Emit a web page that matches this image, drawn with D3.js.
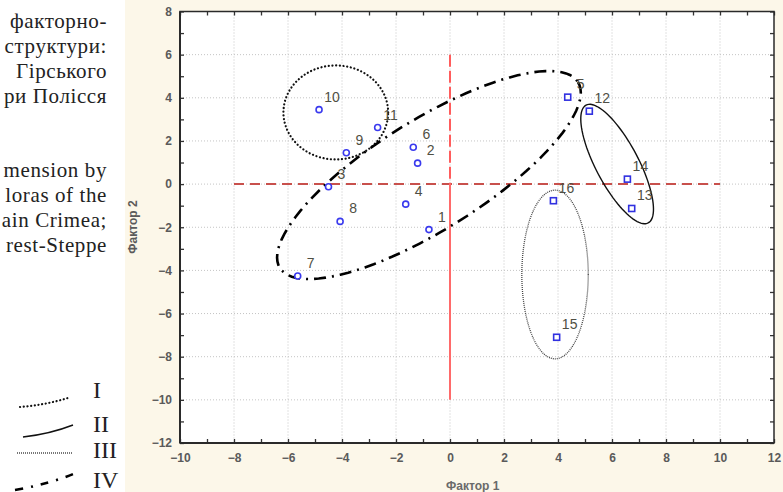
<!DOCTYPE html>
<html>
<head>
<meta charset="utf-8">
<script src="https://cdn.jsdelivr.net/npm/d3@7"></script>
<style>
  body { margin: 0; background: #fff; }
  svg { display: block; }
  .tick text { font-family: "Liberation Sans", Arial, sans-serif; font-size: 12px; font-weight: bold; fill: #5a5a5a; }
</style>
</head>
<body>
<svg id="chart" width="783" height="492"></svg>
<script>
// point numbers and factor scores
const ids = ["1","2","3","4","5","6","7","8","9","10","11","12","13","14","15","16"];
const factor1 = [-0.78, -1.2, -4.5, -1.64, 4.36, -1.36, -5.64, -4.07, -3.84, -4.85, -2.68, 5.16, 6.73, 6.57, 3.95, 3.83];
const factor2 = [-2.11, 0.97, -0.12, -0.93, 4.03, 1.71, -4.26, -1.73, 1.45, 3.45, 2.62, 3.38, -1.13, 0.23, -7.1, -0.77];
const markers = ["o","o","o","o","s","o","o","o","o","o","o","s","s","s","s","s"];

const xTicks = [-10, -8, -6, -4, -2, 0, 2, 4, 6, 8, 10, 12];
const yTicks = [-12, -10, -8, -6, -4, -2, 0, 2, 4, 6, 8];

// group ellipses (centre + two semi-axis vectors, data units)
const groupNames = ["I", "II", "III", "IV"];
const groupCentre = [[-4.23, 3.32], [6.19, 0.93], [3.89, -4.19], [-0.78, 0.42]];
const groupAxisU = [[1.94, 0], [1.15, -2.73], [1.23, 0], [5.52, 4.31]];
const groupAxisV = [[0, 2.18], [0.70, 0.46], [0, 3.91], [1.08, -2.16]];

const leftUk = ["факторно-", "структури:", "Гірського", "ри Полісся"];
const leftEn = ["mension by", "loras of the", "ain Crimea;", "rest-Steppe"];

const svg = d3.select("#chart");

// cream scan background on the figure part
svg.append("rect").attr("x", 125).attr("y", 0).attr("width", 658).attr("height", 492).attr("fill", "#fcf7e9");

const x = d3.scaleLinear().domain([-10, 12]).range([180, 774]);
const y = d3.scaleLinear().domain([-12, 8]).range([443, 11.5]);

svg.append("rect").attr("x", x(-10)).attr("y", y(8))
    .attr("width", x(12) - x(-10)).attr("height", y(-12) - y(8)).attr("fill", "#fff");

// grid
const grid = svg.append("g").attr("stroke", "#c4c4c4").attr("stroke-dasharray", "1,2").attr("stroke-width", 1);
grid.selectAll(".gx").data(xTicks.slice(1, -1)).enter().append("line")
    .attr("x1", d => x(d)).attr("x2", d => x(d)).attr("y1", y(8)).attr("y2", y(-12));
grid.selectAll(".gy").data(yTicks.slice(1, -1)).enter().append("line")
    .attr("y1", d => y(d)).attr("y2", d => y(d)).attr("x1", x(-10)).attr("x2", x(12));

// red reference lines
svg.append("line").attr("x1", x(-8)).attr("x2", x(10)).attr("y1", y(0)).attr("y2", y(0))
    .attr("stroke", "#c8504c").attr("stroke-width", 2).attr("stroke-dasharray", "10,6");
svg.append("line").attr("x1", x(0)).attr("x2", x(0)).attr("y1", y(6)).attr("y2", y(0))
    .attr("stroke", "#ff5c5c").attr("stroke-width", 2).attr("stroke-dasharray", "12,4");
svg.append("line").attr("x1", x(0)).attr("x2", x(0)).attr("y1", y(0)).attr("y2", y(-10))
    .attr("stroke", "#ff6a6a").attr("stroke-width", 2);

// axes (ticks inside the frame)
const minorX = d3.range(-10, 13, 1), minorY = d3.range(-12, 9, 1);
svg.append("g").attr("transform", `translate(0,${y(-12)})`)
    .call(d3.axisBottom(x).tickValues(minorX).tickSize(-4).tickFormat(""))
    .call(g => g.select(".domain").remove());
svg.append("g").attr("transform", `translate(0,${y(-12)})`)
    .call(d3.axisBottom(x).tickValues(xTicks).tickSize(0).tickPadding(10))
    .call(g => g.select(".domain").remove());
svg.append("g").attr("transform", `translate(0,${y(8)})`)
    .call(d3.axisTop(x).tickValues(minorX).tickSize(-4).tickFormat(""))
    .call(g => g.select(".domain").remove());
svg.append("g").attr("transform", `translate(${x(-10)},0)`)
    .call(d3.axisLeft(y).tickValues(minorY).tickSize(-4).tickFormat(""))
    .call(g => g.select(".domain").remove());
svg.append("g").attr("transform", `translate(${x(-10)},0)`)
    .call(d3.axisLeft(y).tickValues(yTicks).tickSize(0).tickPadding(8))
    .call(g => g.select(".domain").remove());
svg.append("g").attr("transform", `translate(${x(12)},0)`)
    .call(d3.axisRight(y).tickValues(minorY).tickSize(-4).tickFormat(""))
    .call(g => g.select(".domain").remove());
svg.selectAll(".tick line").attr("stroke", "#333").attr("stroke-width", 1.3);

svg.append("rect").attr("x", x(-10)).attr("y", y(8))
    .attr("width", x(12) - x(-10)).attr("height", y(-12) - y(8))
    .attr("fill", "none").attr("stroke", "#2a2a2a").attr("stroke-width", 1.5);
svg.append("line").attr("x1", x(-10)).attr("x2", x(-10)).attr("y1", y(8)).attr("y2", y(-12))
    .attr("stroke", "#2a2a2a").attr("stroke-width", 2);
svg.append("line").attr("x1", x(-10)).attr("x2", x(12)).attr("y1", y(-12)).attr("y2", y(-12))
    .attr("stroke", "#2a2a2a").attr("stroke-width", 2);

// axis titles
svg.append("text").attr("x", 446).attr("y", 490)
    .attr("font-family", "Liberation Sans, Arial, sans-serif").attr("font-size", 12).attr("font-weight", "bold")
    .attr("fill", "#6a6a6a").text("Фактор 1");
svg.append("text").attr("transform", "translate(137,227) rotate(-90)").attr("text-anchor", "middle")
    .attr("font-family", "Liberation Sans, Arial, sans-serif").attr("font-size", 12).attr("font-weight", "bold")
    .attr("fill", "#5a5a5a").text("Фактор 2");

// group ellipses
const styles = {
  I:   { stroke: "#111", width: 2.2, dash: "0.1,3.6", cap: "round" },
  II:  { stroke: "#111", width: 1.4, dash: null, cap: "butt" },
  III: { stroke: "#444", width: 1.3, dash: "1,1", cap: "butt" },
  IV:  { stroke: "#000", width: 2.6, dash: "12,6,2,6", cap: "butt" }
};
const ring = d3.range(0, 101).map(i => i / 100 * 2 * Math.PI);
const line = d3.line().x(d => x(d[0])).y(d => y(d[1]));
groupNames.forEach((g, i) => {
  const c = groupCentre[i], u = groupAxisU[i], v = groupAxisV[i];
  const pts = ring.map(t => [c[0] + u[0] * Math.cos(t) + v[0] * Math.sin(t),
                             c[1] + u[1] * Math.cos(t) + v[1] * Math.sin(t)]);
  const s = styles[g];
  svg.append("path").attr("d", line(pts)).attr("fill", "none")
      .attr("stroke", s.stroke).attr("stroke-width", s.width)
      .attr("stroke-linecap", s.cap).attr("stroke-dasharray", s.dash);
});

// points
const pts = ids.map((id, i) => ({ id, f1: factor1[i], f2: factor2[i], m: markers[i] }));
const gp = svg.append("g");
gp.selectAll("circle").data(pts.filter(d => d.m === "o")).enter().append("circle")
    .attr("cx", d => x(d.f1)).attr("cy", d => y(d.f2)).attr("r", 3)
    .attr("fill", "#fff").attr("stroke", "#3a3aee").attr("stroke-width", 1.6);
gp.selectAll("rect").data(pts.filter(d => d.m === "s")).enter().append("rect")
    .attr("x", d => x(d.f1) - 3).attr("y", d => y(d.f2) - 3).attr("width", 6).attr("height", 6)
    .attr("fill", "#fff").attr("stroke", "#3030e0").attr("stroke-width", 1.6);
gp.selectAll("text").data(pts).enter().append("text")
    .attr("x", d => x(d.f1) + 13).attr("y", d => y(d.f2) - 8)
    .attr("text-anchor", "middle")
    .attr("font-family", "Liberation Sans, Arial, sans-serif").attr("font-size", 14)
    .attr("fill", "#4f4f44").text(d => d.id);

// text fragments from the page on the left
const serif = "Liberation Serif, 'Times New Roman', serif";
svg.append("g").selectAll("text").data(leftUk).enter().append("text")
    .attr("x", 107).attr("y", (d, i) => 28 + i * 25).attr("text-anchor", "end")
    .attr("font-family", serif).attr("font-size", 21).attr("letter-spacing", 0.6)
    .attr("fill", "#222").text(d => d);
svg.append("g").selectAll("text").data(leftEn).enter().append("text")
    .attr("x", 107).attr("y", (d, i) => 177 + i * 25).attr("text-anchor", "end")
    .attr("font-family", serif).attr("font-size", 21).attr("letter-spacing", 0.6)
    .attr("fill", "#222").text(d => d);

// legend of line styles
const legendY = [390, 424, 450, 480];
const legendPaths = [
  "M20,407 Q45,405 68,398",
  "M23,437 Q50,434 73,425",
  "M17,453 L73,453",
  "M15,490 Q50,484 78,472"
];
const lg = svg.append("g");
groupNames.forEach((g, i) => {
  const s = styles[g];
  lg.append("path").attr("d", legendPaths[i]).attr("fill", "none")
      .attr("stroke", g === "III" ? "#777" : s.stroke).attr("stroke-width", g === "III" ? 1.8 : s.width)
      .attr("stroke-linecap", s.cap).attr("stroke-dasharray", g === "IV" ? "8,8,2,8" : s.dash);
  lg.append("text").attr("x", 93).attr("y", legendY[i] + 8)
      .attr("font-family", serif).attr("font-size", 24).attr("fill", "#222").text(g);
});
</script>
</body>
</html>
